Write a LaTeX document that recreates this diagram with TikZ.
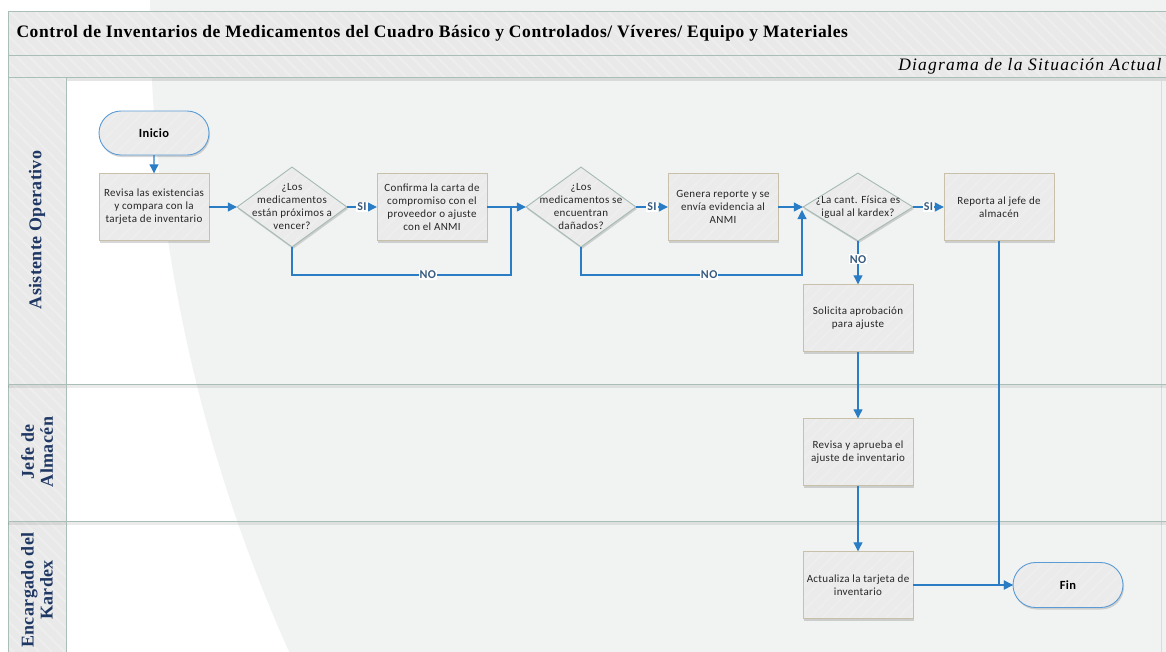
\documentclass[tikz,border=0pt]{standalone}
\usepackage{fontspec}
\setmainfont{Liberation Serif}
\newfontfamily\carlito[LetterSpace=3]{Carlito}
\newfontfamily\titlefont[LetterSpace=3.3]{Liberation Serif}
\newfontfamily\subtitlefont[LetterSpace=7]{Liberation Serif}
\newfontfamily\lanefont[LetterSpace=2]{Liberation Serif}
\usetikzlibrary{shapes.geometric,shapes.misc,arrows.meta,patterns.meta,shadows,calc}

\definecolor{pagegray}{HTML}{F1F3F3}
\definecolor{bandfill}{HTML}{E9E9E9}
\definecolor{stripe}{HTML}{EEEEEE}
\definecolor{bandline}{HTML}{A9BEB7}
\definecolor{boxfill}{HTML}{EBEBEB}
\definecolor{boxline}{HTML}{C8C0A9}
\definecolor{decline}{HTML}{A5BAB4}
\definecolor{termline}{HTML}{5B9BD5}
\definecolor{flowblue}{HTML}{2A7DC4}
\definecolor{lbltext}{HTML}{3A5C80}
\definecolor{lanetext}{HTML}{1F3763}
\definecolor{nodetext}{HTML}{262626}

\tikzset{
  % pale diagonal hatching, then the outline again on top of it
  stripesdown/.style={postaction={pattern={Lines[angle=-45,distance=9pt,line width=1.8pt]},pattern color=stripe},
    postaction={draw=#1, line width=0.9pt}},
  stripesup/.style={postaction={pattern={Lines[angle=45,distance=9pt,line width=1.8pt]},pattern color=stripe},
    postaction={draw=#1, line width=0.9pt}},
  band/.style={fill=bandfill, stripesdown=bandline},
  softshadow/.style={drop shadow={shadow xshift=1pt, shadow yshift=-2pt, opacity=0.22, fill=black!70}},
  nodefont/.style={font=\carlito\fontsize{11}{13}\selectfont, text=nodetext},
  stepbox/.style={rectangle, fill=boxfill, softshadow, stripesup=boxline,
    minimum width=110pt, minimum height=67pt, inner sep=0pt, align=center, nodefont},
  decision/.style={diamond, fill=boxfill, softshadow, stripesup=decline,
    minimum width=110pt, minimum height=80pt, inner sep=0pt},
  dtext/.style={align=center, inner sep=0pt, nodefont},
  terminal/.style={rounded rectangle, fill=boxfill, softshadow, stripesup=termline,
    minimum width=110pt, minimum height=44pt, inner sep=0pt,
    font=\carlito\bfseries\fontsize{12.5}{14}\selectfont, text=black},
  flow/.style={draw=flowblue, line width=1.1pt, -{Triangle[length=9pt,width=9pt]}},
  flowline/.style={draw=flowblue, line width=1.1pt},
  lbl/.style={fill=white, inner sep=1pt, font=\carlito\bfseries\fontsize{12}{14}\selectfont, text=lbltext},
  lanename/.style={rotate=90, align=center, text=lanetext, font=\lanefont\bfseries\fontsize{18}{19}\selectfont}
}

\begin{document}
\begin{tikzpicture}[x=1pt,y=-1pt]
\useasboundingbox (0,0) rectangle (1166,651);

% page background: white with a large pale disc on the right
\fill[white] (0,0) rectangle (1166,651);
\begin{scope}
  \clip (0,0) rectangle (1166,651);
  \fill[pagegray] (1742,0) circle [radius=1592];
\end{scope}

% header bands
\path[band] (8,11) rectangle (1172,55);
\path[band] (8,55) rectangle (1172,77);
\fill[black,opacity=0.10] (8,77.5) rectangle (1166,80.5);
\node[anchor=west, font=\titlefont\bfseries\fontsize{17.5}{20}\selectfont] (title) at (13,33)
  {Control de Inventarios de Medicamentos del Cuadro Básico y Controlados/ Víveres/ Equipo y Materiales};
\node[anchor=east, font=\subtitlefont\itshape\fontsize{17.5}{20}\selectfont] (subtitle) at (1165,66)
  {Diagrama de la Situación Actual};

% swimlanes
\path[band] (8,77) rectangle (66,660);
\draw[bandline!50, line width=0.8pt] (1161,80) -- (1161,660);
\fill[black,opacity=0.08] (8,385) rectangle (1166,388);
\fill[black,opacity=0.08] (8,522) rectangle (1166,525);
\draw[bandline, line width=1pt] (8,384) -- (1172,384);
\draw[bandline, line width=1pt] (8,521) -- (1172,521);
\draw[bandline, line width=1pt] (66,77) -- (66,660);
\node[lanename] (lane1) at (37,230) {Asistente Operativo};
\node[lanename] (lane2) at (37,452) {Jefe de\\Almacén};
\node[lanename] (lane3) at (37,590) {Encargado del\\Kardex};

% flow steps
\node[terminal] (ini) at (154,133) {Inicio};
\node[stepbox] (b1) at (154,207) {Revisa las existencias\\y compara con la\\tarjeta de inventario};
\node[decision, label={[dtext]center:{¿Los\\medicamentos\\están próximos a\\vencer?}}] (d1) at (292,207) {};
\node[stepbox] (b2) at (432,207) {Confirma la carta de\\compromiso con el\\proveedor o ajuste\\con el ANMI};
\node[decision, label={[dtext]center:{¿Los\\medicamentos se\\encuentran\\dañados?}}] (d2) at (581,207) {};
\node[stepbox] (b3) at (723,207) {Genera reporte y se\\envía evidencia al\\ANMI};
\node[decision, minimum height=68pt, label={[dtext]center:{¿La cant. Física es\\igual al kardex?}}] (d3) at (858,207) {};
\node[stepbox] (b4) at (999,207) {Reporta al jefe de\\almacén};
\node[stepbox] (b5) at (858,318) {Solicita aprobación\\para ajuste};
\node[stepbox] (b6) at (858,452) {Revisa y aprueba el\\ajuste de inventario};
\node[stepbox] (b7) at (858,585) {Actualiza la tarjeta de\\inventario};
\node[terminal, minimum height=45pt] (fin) at (1068,585) {Fin};

\coordinate (m1) at (511,207);
\coordinate (n1) at (511,275);
\coordinate (n2) at (802,275);
\coordinate (m2) at (802,210);

% connectors
\draw[flow] (ini) -- (b1);
\draw[flow] (b1) -- (d1);
\draw[flow] (d1) -- node[lbl] {SI} (b2);
\draw[flowline] (d1.south) |- node[lbl, pos=0.81] {NO} (n1) -- (m1);
\draw[flow] (b2) -- (d2);
\draw[flow] (d2) -- node[lbl] {SI} (b3);
\draw[flow] (d2.south) |- node[lbl, pos=0.79] {NO} (n2) -- (m2);
\draw[flow] (b3) -- (d3);
\draw[flow] (d3) -- node[lbl] {SI} (b4);
\draw[flow] (d3) -- node[lbl, pos=0.42] {NO} (b5);
\draw[flow] (b4.south) |- (fin.west);
\draw[flow] (b5) -- (b6);
\draw[flow] (b6) -- (b7);
\draw[flow] (b7) -- (fin);
\end{tikzpicture}
\end{document}
